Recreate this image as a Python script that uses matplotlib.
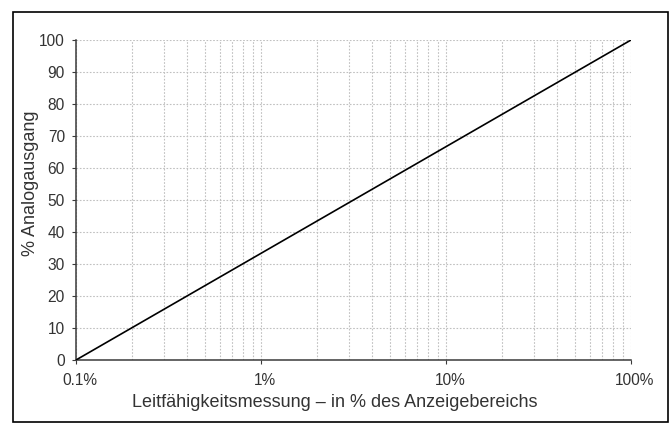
import matplotlib
matplotlib.use("Agg")
from matplotlib import pyplot as plt
from matplotlib.patches import Rectangle
from matplotlib.ticker import FixedLocator, LogLocator, NullFormatter
import matplotlib.transforms as mtransforms

plt.rcParams['font.family'] = ['Liberation Sans', 'DejaVu Sans']

# data
measurement_pct = [0.1, 100]
output_pct = [0, 100]
x_ticks = [0.1, 1, 10, 100]
x_tick_labels = ["0.1%", "1%", "10%", "100%"]
y_ticks = list(range(0, 101, 10))

W, H = 670, 423
text_color = "#333333"

fig = plt.figure(figsize=(W / 100, H / 100), dpi=100)
ax = fig.add_axes([76 / W, 1 - 360 / H, (631 - 76) / W, (360 - 40) / H])

# frame around whole figure
fig.patches.append(Rectangle((13 / W, 1 / H), 655 / W, 410 / H,
                             transform=fig.transFigure, fill=False,
                             edgecolor="black", linewidth=1.2))

ax.plot(measurement_pct, output_pct, color="black", linewidth=1.2, zorder=3)

ax.set_xscale("log")
ax.set_xlim(0.1, 100)
ax.set_ylim(0, 100)
ax.xaxis.set_major_locator(FixedLocator(x_ticks))
ax.set_xticklabels(x_tick_labels)
ax.xaxis.set_minor_locator(LogLocator(base=10, subs=range(2, 10)))
ax.xaxis.set_minor_formatter(NullFormatter())
ax.set_yticks(y_ticks)

grid_style = dict(color="#c0c0c0", linestyle=(0, (1.5, 1.5)), linewidth=0.8)
ax.grid(True, which="major", **grid_style)
ax.grid(True, which="minor", axis="x", **grid_style)

for side in ["top", "right"]:
    ax.spines[side].set_visible(False)
for side in ["left", "bottom"]:
    ax.spines[side].set_color("#3a3a3a")
    ax.spines[side].set_linewidth(1.1)

ax.tick_params(axis="both", which="major", length=3, width=0.8, color="#3a3a3a",
               labelsize=11.2, labelcolor=text_color)
ax.tick_params(axis="x", which="major", pad=6)
ax.tick_params(axis="y", which="major", pad=5)
ax.tick_params(axis="x", which="minor", length=0)

# x tick labels sit slightly right of their ticks
shift = mtransforms.ScaledTranslation(4 / 100, 0, fig.dpi_scale_trans)
for lbl in ax.get_xticklabels():
    lbl.set_transform(lbl.get_transform() + shift)

fig.text(335 / W, 1 - 407 / H, "Leitfähigkeitsmessung – in % des Anzeigebereichs",
         fontsize=13, color=text_color, ha="center", va="baseline")
fig.text(35 / W, 1 - 183 / H, "% Analogausgang", fontsize=13, color=text_color,
         rotation=90, ha="center", va="baseline", rotation_mode="anchor")

fig.savefig("out.png", dpi=100)
